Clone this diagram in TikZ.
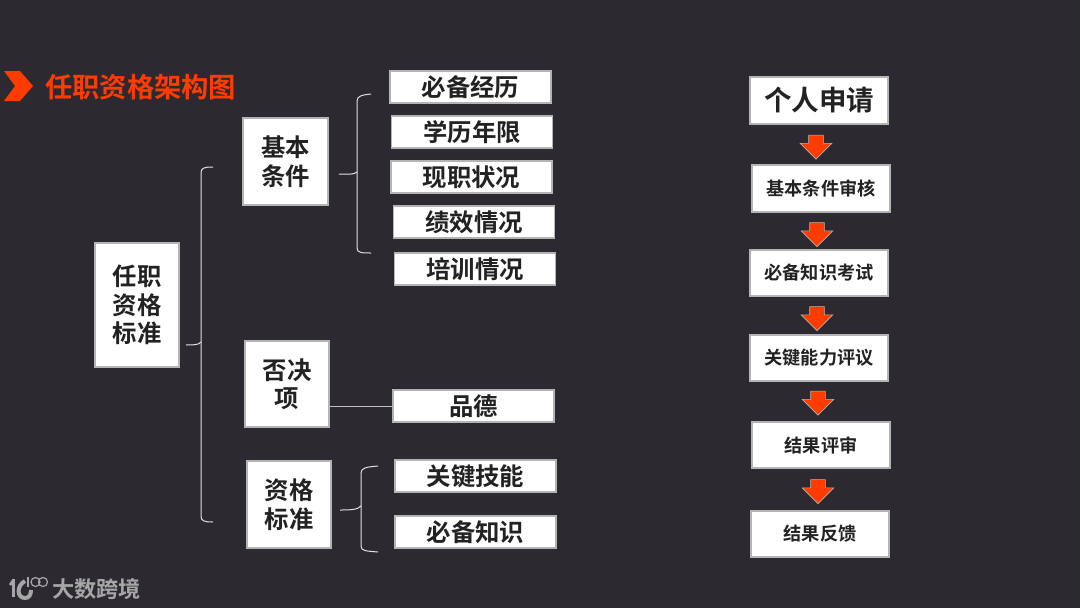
\documentclass[tikz,border=0pt]{standalone}
\usepackage{fontspec}
\usepackage{xcolor}
\usetikzlibrary{shapes.arrows}
\newfontfamily\cjkbold[BoldFont={Noto Sans CJK SC Bold}]{Noto Sans CJK SC Bold}
\definecolor{pagebg}{HTML}{2D2931}
\definecolor{accent}{HTML}{FF3C00}
\definecolor{boxtext}{HTML}{222222}
\definecolor{boxline}{HTML}{B4B4B4}
\definecolor{logogray}{HTML}{A6A6A6}

\begin{document}
\begin{tikzpicture}[
    x=1pt, y=-1pt,
    box/.style={
        rectangle, draw=boxline, fill=white, line width=1.2pt,
        inner sep=0pt, align=center, text=boxtext, font=\cjkbold\fontsize{24.4}{28.5}\selectfont
    },
    item/.style={box, minimum width=161pt, minimum height=32pt},
    group/.style={box, minimum width=85pt, minimum height=87pt},
    stepbox/.style={box, minimum width=138pt, minimum height=46pt, font=\cjkbold\fontsize{18.2}{20}\selectfont},
    down/.style={
        single arrow, draw=boxline, fill=accent, line width=0.6pt, rotate=270,
        inner xsep=0pt, inner ysep=7pt, minimum width=31pt, minimum height=24pt,
        single arrow head extend=8.5pt, single arrow tip angle=90
    },
    brace/.style={draw=white!88!black, line width=1pt},
    link/.style={draw=white!75!black, line width=1pt},
]
\useasboundingbox (0,0) rectangle (1080,608);
\fill[pagebg] (0,0) rectangle (1080,608);

% Title
\fill[accent] (4,71) -- (20,71) -- (33,86) -- (20,101) -- (4,101) -- (15,86) -- cycle;
\node[anchor=west, inner sep=0pt, text=accent, font=\cjkbold\fontsize{27.3}{27}\selectfont] (title) at (45,87) {任职资格架构图};

% Left tree
\node[box, minimum width=84pt, minimum height=124pt] (root) at (137,305) {任职\\资格\\标准};
\node[group] (basic) at (285.5,161.5) {基本\\条件};
\node[group, minimum width=84pt, minimum height=86pt] (veto) at (287,384) {否决\\项};
\node[group, minimum width=84pt] (qual) at (289,504.5) {资格\\标准};

\node[item] (exp) at (470.5,87) {必备经历};
\node[item] (edu) at (472,132) {学历年限};
\node[item] (post) at (471.5,177) {现职状况};
\node[item] (perf) at (474,222) {绩效情况};
\node[item] (train) at (475,269) {培训情况};
\node[item] (moral) at (473.5,406) {品德};
\node[item] (skill) at (475.5,476) {关键技能};
\node[item] (know) at (475.5,532) {必备知识};

% Braces
\draw[brace] (186,345) .. controls (193,345) and (199,345) .. (201,342) -- (201,173)
    .. controls (201,168) and (204,167) .. (213,167);
\draw[brace] (201,342) .. controls (201,344) and (201,345) .. (201,348) -- (201,516)
    .. controls (201,521) and (204,522) .. (213,522);
\draw[brace] (339,174) .. controls (347,174) and (354,175) .. (357,172) -- (357,101)
    .. controls (357,96) and (362,95) .. (371,94);
\draw[brace] (357,172) .. controls (357,174) and (357,175) .. (357,178) -- (357,248)
    .. controls (357,253) and (362,253) .. (371,253);
\draw[brace] (340,510) .. controls (348,510) and (358,510) .. (361,506) -- (361,473)
    .. controls (361,468) and (366,467) .. (378,466);
\draw[brace] (361,506) .. controls (361,509) and (361,510) .. (361,513) -- (361,546)
    .. controls (361,551) and (366,551) .. (378,552);
\draw[link] (veto.east |- moral) -- (moral);

% Right flow
\node[stepbox, font=\cjkbold\fontsize{27.5}{30}\selectfont, minimum height=47pt] (apply) at (819,100.5) {个人申请};
\node[stepbox, minimum height=47pt] (check) at (821,188.5) {基本条件审核};
\node[stepbox] (exam) at (819,273) {必备知识考试};
\node[stepbox] (review) at (819,358) {关键能力评议};
\node[stepbox] (judge) at (821,445) {结果评审};
\node[stepbox] (reply) at (820,534) {结果反馈};

\node[down] (a1) at (816,143.5) {};
\node[down] (a2) at (817,231) {};
\node[down] (a3) at (817,315) {};
\node[down] (a4) at (818,399.5) {};
\node[down] (a5) at (818,488) {};

% Logo
\draw[logogray, line width=3.4pt] (13.5,579) -- (13.5,597);
\draw[logogray, line width=2.6pt] (10,585) -- (13.5,580);
\draw[logogray, line width=4pt] (25,581) .. controls (16,586) and (17,598) .. (25,598) .. controls (29,598) and (31,595) .. (31,590);
\draw[logogray, line width=1.2pt] (28,577) -- (28,587);
\draw[logogray, line width=1.2pt] (35.5,582) circle[radius=4.5];
\draw[logogray, line width=1.2pt] (43,582) circle[radius=4.5];
\node[anchor=west, inner sep=0pt, text=logogray, font=\cjkbold\fontsize{22.2}{22}\selectfont] (brand) at (52,589) {大数跨境};
\end{tikzpicture}
\end{document}
